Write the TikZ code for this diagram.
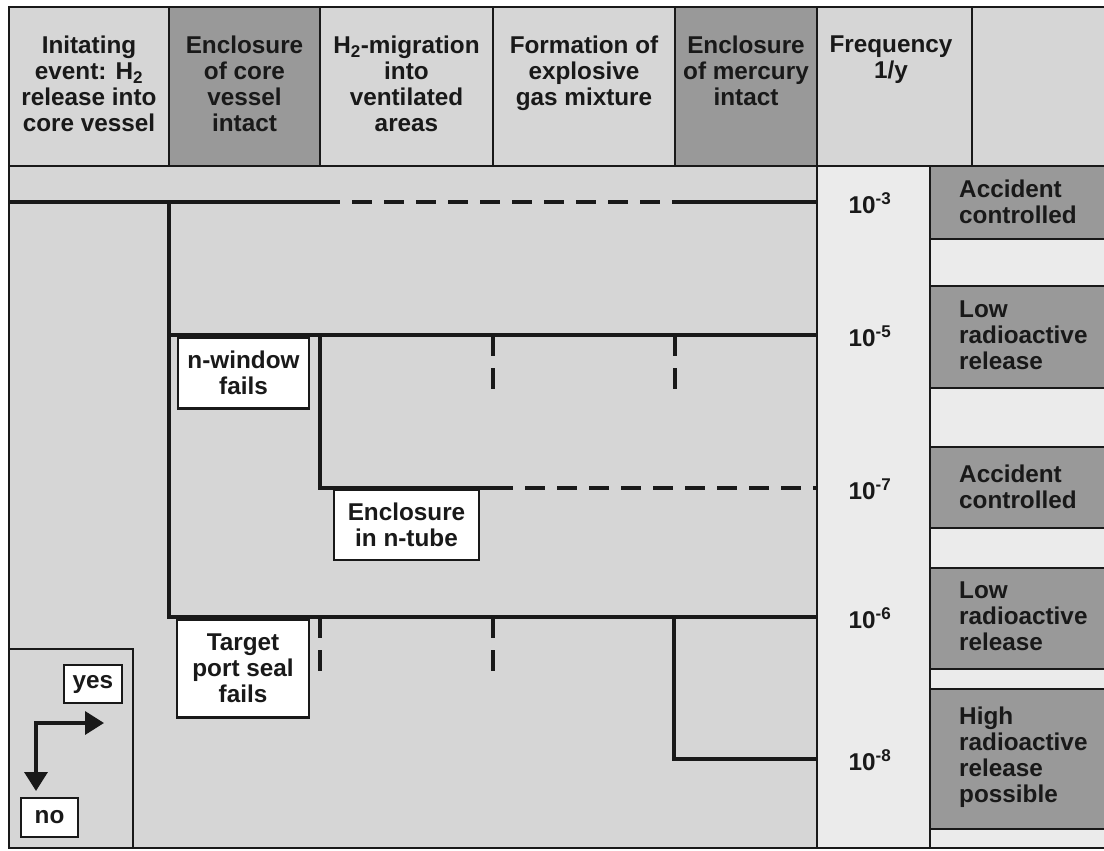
\documentclass[tikz,border=0pt]{standalone}
\usepackage{fontspec}
\setmainfont{Liberation Sans}
\usetikzlibrary{arrows.meta}
\definecolor{cellL}{gray}{0.84}
\definecolor{cellD}{gray}{0.60}
\definecolor{cellW}{gray}{0.92}
\definecolor{ink}{gray}{0.10}
\begin{document}
\begin{tikzpicture}[x=1pt,y=-1pt,
  every node/.style={font=\fontsize{24.3}{26}\selectfont\bfseries, text=ink, inner sep=0pt, align=center},
  hdr/.style={anchor=north},
  grid/.style={line width=2.2pt, draw=ink},
  tree/.style={line width=4.5pt, draw=ink},
  dsh/.style={tree, dash pattern=on 20pt off 12pt, dash phase=20pt},
  stub/.style={tree, dash pattern=on 21pt off 12pt},
  lbl/.style={draw=ink, line width=2.2pt, fill=white},
  outc/.style={anchor=north west, align=left},
  freq/.style={anchor=center},
  legarrow/.style={line width=3.5pt, draw=ink, {Triangle[length=19pt,width=23pt]}-{Triangle[length=19pt,width=23pt]}}
]
\useasboundingbox (0,0) rectangle (1104,851);
% backgrounds
\fill[cellL] (9,7) rectangle (1110,848);
\fill[cellD] (169,7) rectangle (320,166);
\fill[cellD] (675,7) rectangle (817,166);
\fill[cellW] (817,166) rectangle (1110,848);
\fill[cellD] (930,166) rectangle (1110,239);
\fill[cellD] (930,286) rectangle (1110,388);
\fill[cellD] (930,447) rectangle (1110,528);
\fill[cellD] (930,568) rectangle (1110,669);
\fill[cellD] (930,689) rectangle (1110,829);
% grid lines
\draw[grid] (9,7) rectangle (1110,848);
\draw[grid] (9,166) -- (1110,166);
\foreach \x in {169,320,493,675,817,972} \draw[grid] (\x,7) -- (\x,166);
\draw[grid] (817,166) -- (817,848);
\draw[grid] (930,166) -- (930,848);
\foreach \y in {239,286,388,447,528,568,669,689,829} \draw[grid] (930,\y) -- (1110,\y);
% header texts
\node[hdr] (h1) at (89,36) {Initating\\event: H\textsubscript{2}\\release into\\core vessel};
\node[hdr] (h2) at (244.5,36) {Enclosure\\of core\\vessel\\intact};
\node[hdr] (h3) at (406.5,36) {H\textsubscript{2}-migration\\into\\ventilated\\areas};
\node[hdr] (h4) at (584,36) {Formation of\\explosive\\gas mixture};
\node[hdr] (h5) at (746,36) {Enclosure\\of mercury\\intact};
\node[hdr] (h6) at (891,36) {Frequency\\1/y};
% label boxes
\node[lbl, minimum width=131pt, minimum height=71pt] (nw) at (243.5,373) {n-window\\fails};
\node[lbl, minimum width=145pt, minimum height=70pt] (nt) at (406.5,525) {Enclosure\\in n-tube};
\node[lbl, minimum width=132pt, minimum height=98pt] (tp) at (243,668.5) {Target\\port seal\\fails};
% tree coordinates
\coordinate (t0) at (9,202);
\coordinate (a1) at (169,202);
\coordinate (d1) at (340,202);
\coordinate (d2) at (672,202);
\coordinate (e1) at (817,202);
\coordinate (a2) at (169,335);
\coordinate (e2) at (817,335);
\coordinate (b1) at (320,335);
\coordinate (b2) at (320,488);
\coordinate (c1) at (513,488);
\coordinate (e3) at (817,488);
\coordinate (a3) at (169,617);
\coordinate (g1) at (674,617);
\coordinate (e4) at (817,617);
\coordinate (g2) at (674,759);
\coordinate (e5) at (817,759);
\coordinate (s1) at (493,335); \coordinate (s1e) at (493,389);
\coordinate (s2) at (675,335); \coordinate (s2e) at (675,389);
\coordinate (s3) at (320,617); \coordinate (s3e) at (320,671);
\coordinate (s4) at (493,617); \coordinate (s4e) at (493,671);
% tree
\draw[tree] (t0) -- (d1);
\draw[dsh] (d1) -- (d2);
\draw[tree] (d2) -- (e1);
\draw[tree] (a1) -- (a3) -- (e4);
\draw[tree] (a2) -- (e2);
\draw[tree] (b1) -- (b2) -- (c1);
\draw[dsh] (c1) -- (e3);
\draw[tree] (g1) -- (g2) -- (e5);
\draw[stub] (s1) -- (s1e);
\draw[stub] (s2) -- (s2e);
\draw[stub] (s3) -- (s3e);
\draw[stub] (s4) -- (s4e);
% frequencies
\node[freq] (f1) at (870,203) {10\textsuperscript{-3}};
\node[freq] (f2) at (870,336) {10\textsuperscript{-5}};
\node[freq] (f3) at (870,489) {10\textsuperscript{-7}};
\node[freq] (f4) at (870,618) {10\textsuperscript{-6}};
\node[freq] (f5) at (870,760) {10\textsuperscript{-8}};
% outcomes
\node[outc] (o1) at (959,180) {Accident\\controlled};
\node[outc] (o2) at (959,301) {Low\\radioactive\\release};
\node[outc] (o3) at (959,465) {Accident\\controlled};
\node[outc] (o4) at (959,582) {Low\\radioactive\\release};
\node[outc] (o5) at (959,707) {High\\radioactive\\release\\possible};
% legend
\draw[grid] (9,649) rectangle (133,848);
\node[lbl, minimum width=58pt, minimum height=38pt] (yes) at (93,684) {yes};
\node[lbl, minimum width=57pt, minimum height=39pt] (no) at (49.5,817.5) {no};
\coordinate (lc) at (36,723);
\coordinate (ly) at (104,723);
\coordinate (ln) at (36,791);
\draw[legarrow] (ly) -- (lc) -- (ln);
\end{tikzpicture}
\end{document}
